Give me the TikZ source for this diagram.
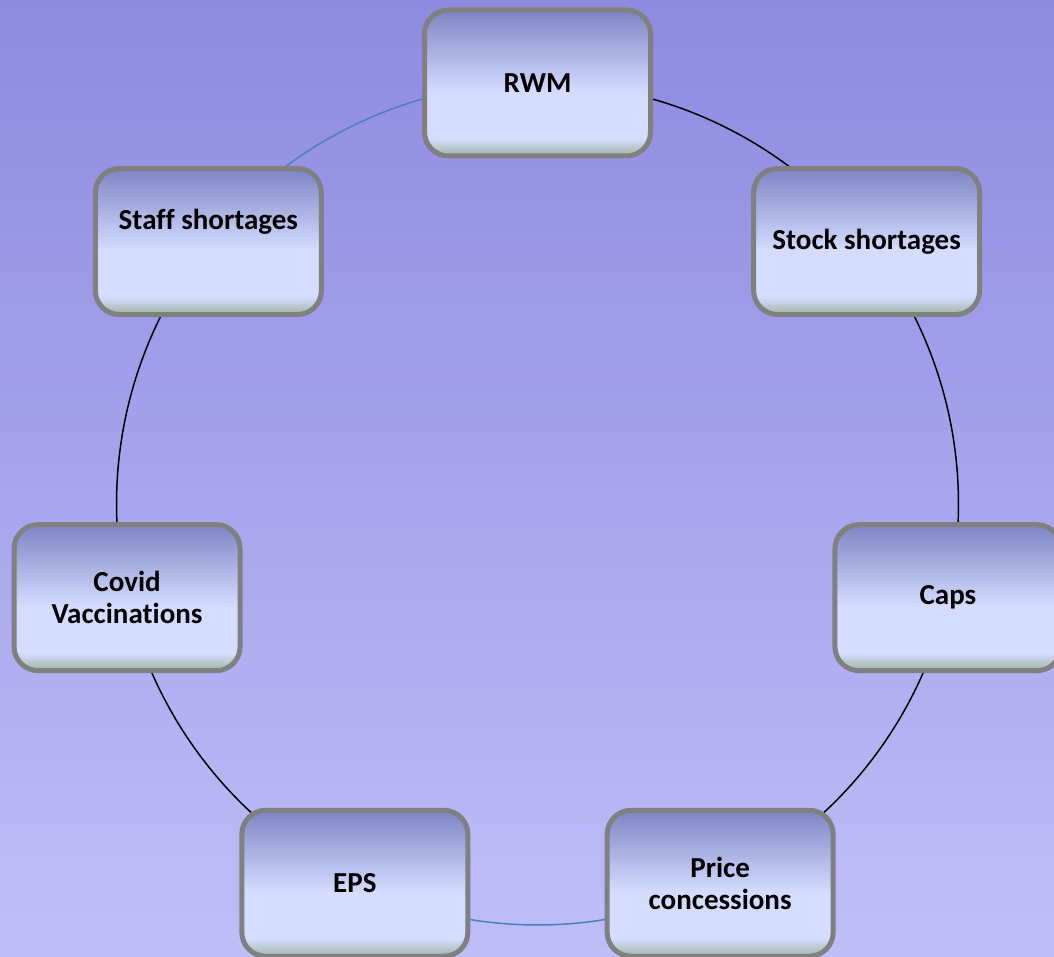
\documentclass[tikz,border=0pt]{standalone}
\usepackage{fontspec}
\setmainfont{Carlito}[Ligatures={NoCommon}]
\usetikzlibrary{calc}
\pgfdeclarelayer{background}
\pgfsetlayers{background,main}
\definecolor{bgtop}{HTML}{8E8AE0}
\definecolor{bgbot}{HTML}{C0BEF8}
\definecolor{btop}{HTML}{7E84C4}
\definecolor{blight}{HTML}{D4DCFF}
\definecolor{bgreen}{HTML}{A2B4A2}
\definecolor{bordergray}{HTML}{808080}
\definecolor{arcblue}{HTML}{4A80C0}
\pgfdeclareverticalshading{boxshade}{100bp}{color(0bp)=(bgreen); color(25bp)=(bgreen); color(31bp)=(blight); color(47bp)=(blight); color(75bp)=(btop); color(100bp)=(btop)}
\tikzset{
  topic/.style={draw=bordergray, line width=5pt, rounded corners=24pt,
    shading=boxshade, minimum width=226pt, minimum height=146pt,
    align=center, font=\fontsize{29}{32}\selectfont\bfseries, text=black, inner sep=0pt},
  blackarc/.style={draw=black, line width=1.5pt},
  bluearc/.style={draw=arcblue, line width=1.5pt}
}
\begin{document}
\begin{tikzpicture}[x=1pt,y=1pt]
\useasboundingbox (0,0) rectangle (1054,-957);
\coordinate (O) at (537.5,-504);
\def\R{421}
\node[topic] (rwm)   at ($(O)+(90:\R pt)$) {RWM};
\node[topic] (stock) at ($(O)+(38.571:\R pt)$) {Stock shortages};
\node[topic] (caps)  at ($(O)+(-12.857:\R pt)$) {Caps};
\node[topic] (price) at ($(O)+(-64.286:\R pt)$) {Price\\concessions};
\node[topic] (eps)   at ($(O)+(-115.714:\R pt)$) {EPS};
\node[topic] (covid) at ($(O)+(-167.143:\R pt)$) {Covid\\Vaccinations};
\node[topic] (staff) at ($(O)+(141.429:\R pt)$) {Staff shortages\\[12pt]\mbox{}};
\begin{pgfonlayer}{background}
\shade[top color=bgtop, bottom color=bgbot] (0,0) rectangle (1054,-957);
\draw[blackarc] (rwm.center) arc[start angle=90, end angle=38.571, radius=421pt];
\draw[blackarc] (stock.center) arc[start angle=38.571, end angle=-12.857, radius=421pt];
\draw[blackarc] (caps.center) arc[start angle=-12.857, end angle=-64.286, radius=421pt];
\draw[bluearc] (price.center) arc[start angle=-64.286, end angle=-115.714, radius=421pt];
\draw[blackarc] (eps.center) arc[start angle=-115.714, end angle=-167.143, radius=421pt];
\draw[blackarc] (covid.center) arc[start angle=-167.143, end angle=-218.571, radius=421pt];
\draw[bluearc] (staff.center) arc[start angle=141.429, end angle=90, radius=421pt];
\end{pgfonlayer}
\end{tikzpicture}
\end{document}
